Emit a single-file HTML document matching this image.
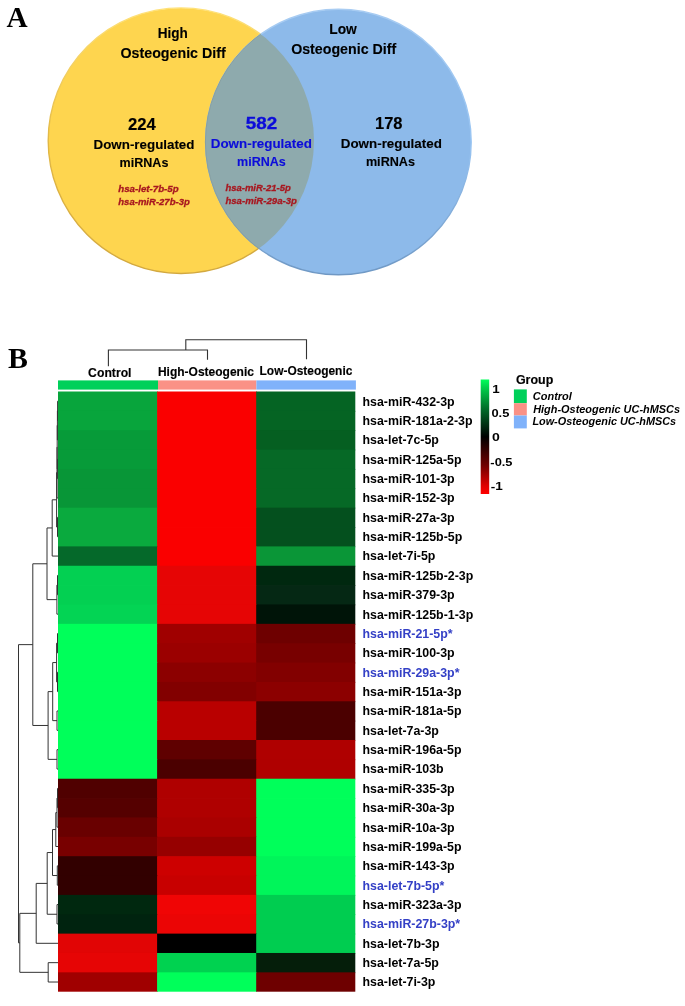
<!DOCTYPE html><html><head><meta charset="utf-8"><style>html,body{margin:0;padding:0;background:#fff;overflow:hidden}svg{display:block;will-change:transform}#w{width:685px;height:1006px;overflow:hidden}</style></head><body><div id="w">
<svg width="685" height="1006" viewBox="0 0 685 1006" font-family="'Liberation Sans', sans-serif">
<rect width="685" height="1006" fill="#fff"/>
<defs><linearGradient id="ys" x1="0" y1="0" x2="0" y2="1"><stop offset="0" stop-color="#FFE27A"/><stop offset="0.5" stop-color="#E2B845"/><stop offset="1" stop-color="#D2A840"/></linearGradient><linearGradient id="bs" x1="0" y1="0" x2="0" y2="1"><stop offset="0" stop-color="#A8CCF2"/><stop offset="0.5" stop-color="#98C4F2"/><stop offset="1" stop-color="#6F98C4"/></linearGradient><filter id="sf" x="-5%" y="-5%" width="110%" height="110%"><feGaussianBlur stdDeviation="0.45"/></filter></defs>
<g filter="url(#sf)">
<circle cx="181.0" cy="140.7" r="132.80" fill="#FED54F" stroke="url(#ys)" stroke-width="1.4"/>
<circle cx="338.4" cy="142.0" r="132.80" fill="#8DBAEA" stroke="url(#bs)" stroke-width="1.4"/>
<clipPath id="cy"><circle cx="181.0" cy="140.7" r="133.00"/></clipPath>
<circle cx="338.4" cy="142.0" r="133.00" fill="#8EAAAD" stroke="#889FA0" stroke-width="1" clip-path="url(#cy)"/>
</g>
<text x="6.41" y="26.70" font-family="'Liberation Serif'" font-size="29.80" font-weight="bold" font-style="normal" fill="#000" textLength="21.15" lengthAdjust="spacingAndGlyphs">A</text>
<text x="157.65" y="37.70" font-family="'Liberation Sans'" font-size="14.60" font-weight="bold" font-style="normal" fill="#000" stroke="#000" stroke-width="0.12" textLength="30.08" lengthAdjust="spacingAndGlyphs">High</text>
<text x="120.53" y="57.50" font-family="'Liberation Sans'" font-size="14.40" font-weight="bold" font-style="normal" fill="#000" stroke="#000" stroke-width="0.12" textLength="105.16" lengthAdjust="spacingAndGlyphs">Osteogenic Diff</text>
<text x="329.24" y="33.90" font-family="'Liberation Sans'" font-size="13.80" font-weight="bold" font-style="normal" fill="#000" stroke="#000" stroke-width="0.12" textLength="27.56" lengthAdjust="spacingAndGlyphs">Low</text>
<text x="291.13" y="53.50" font-family="'Liberation Sans'" font-size="14.40" font-weight="bold" font-style="normal" fill="#000" stroke="#000" stroke-width="0.12" textLength="105.06" lengthAdjust="spacingAndGlyphs">Osteogenic Diff</text>
<text x="128.00" y="129.60" font-family="'Liberation Sans'" font-size="15.60" font-weight="bold" font-style="normal" fill="#000" stroke="#000" stroke-width="0.12" textLength="27.95" lengthAdjust="spacingAndGlyphs">224</text>
<text x="245.84" y="128.90" font-family="'Liberation Sans'" font-size="15.60" font-weight="bold" font-style="normal" fill="#0C0CDA" stroke="#0C0CDA" stroke-width="0.30" textLength="31.39" lengthAdjust="spacingAndGlyphs">582</text>
<text x="375.01" y="128.90" font-family="'Liberation Sans'" font-size="15.60" font-weight="bold" font-style="normal" fill="#000" stroke="#000" stroke-width="0.12" textLength="27.56" lengthAdjust="spacingAndGlyphs">178</text>
<text x="93.57" y="148.50" font-family="'Liberation Sans'" font-size="12.80" font-weight="bold" font-style="normal" fill="#000" stroke="#000" stroke-width="0.12" textLength="100.91" lengthAdjust="spacingAndGlyphs">Down-regulated</text>
<text x="210.76" y="147.70" font-family="'Liberation Sans'" font-size="12.80" font-weight="bold" font-style="normal" fill="#0C0CDA" stroke="#0C0CDA" stroke-width="0.12" textLength="101.12" lengthAdjust="spacingAndGlyphs">Down-regulated</text>
<text x="340.76" y="148.00" font-family="'Liberation Sans'" font-size="12.80" font-weight="bold" font-style="normal" fill="#000" stroke="#000" stroke-width="0.12" textLength="101.12" lengthAdjust="spacingAndGlyphs">Down-regulated</text>
<text x="119.62" y="167.00" font-family="'Liberation Sans'" font-size="12.80" font-weight="bold" font-style="normal" fill="#000" stroke="#000" stroke-width="0.12" textLength="48.78" lengthAdjust="spacingAndGlyphs">miRNAs</text>
<text x="237.02" y="166.20" font-family="'Liberation Sans'" font-size="12.80" font-weight="bold" font-style="normal" fill="#0C0CDA" stroke="#0C0CDA" stroke-width="0.12" textLength="48.78" lengthAdjust="spacingAndGlyphs">miRNAs</text>
<text x="365.92" y="166.20" font-family="'Liberation Sans'" font-size="12.80" font-weight="bold" font-style="normal" fill="#000" stroke="#000" stroke-width="0.12" textLength="49.08" lengthAdjust="spacingAndGlyphs">miRNAs</text>
<text x="118.31" y="191.80" font-family="'Liberation Sans'" font-size="9.60" font-weight="bold" font-style="italic" fill="#A81820" stroke="#A81820" stroke-width="0.30" textLength="60.32" lengthAdjust="spacingAndGlyphs">hsa-let-7b-5p</text>
<text x="118.31" y="204.60" font-family="'Liberation Sans'" font-size="9.60" font-weight="bold" font-style="italic" fill="#A81820" stroke="#A81820" stroke-width="0.30" textLength="71.49" lengthAdjust="spacingAndGlyphs">hsa-miR-27b-3p</text>
<text x="225.41" y="191.40" font-family="'Liberation Sans'" font-size="9.60" font-weight="bold" font-style="italic" fill="#A81820" stroke="#A81820" stroke-width="0.30" textLength="65.38" lengthAdjust="spacingAndGlyphs">hsa-miR-21-5p</text>
<text x="225.41" y="204.20" font-family="'Liberation Sans'" font-size="9.60" font-weight="bold" font-style="italic" fill="#A81820" stroke="#A81820" stroke-width="0.30" textLength="71.55" lengthAdjust="spacingAndGlyphs">hsa-miR-29a-3p</text>
<text x="7.90" y="367.90" font-family="'Liberation Serif'" font-size="29.40" font-weight="bold" font-style="normal" fill="#000" textLength="19.90" lengthAdjust="spacingAndGlyphs">B</text>
<text x="88.11" y="376.90" font-family="'Liberation Sans'" font-size="12.60" font-weight="bold" font-style="normal" fill="#000" stroke="#000" stroke-width="0.15" textLength="43.40" lengthAdjust="spacingAndGlyphs">Control</text>
<text x="157.96" y="375.70" font-family="'Liberation Sans'" font-size="12.20" font-weight="bold" font-style="normal" fill="#000" stroke="#000" stroke-width="0.15" textLength="96.01" lengthAdjust="spacingAndGlyphs">High-Osteogenic</text>
<text x="259.57" y="374.60" font-family="'Liberation Sans'" font-size="12.40" font-weight="bold" font-style="normal" fill="#000" stroke="#000" stroke-width="0.15" textLength="92.77" lengthAdjust="spacingAndGlyphs">Low-Osteogenic</text>
<text x="515.90" y="383.70" font-family="'Liberation Sans'" font-size="12.20" font-weight="bold" font-style="normal" fill="#000" stroke="#000" stroke-width="0.15" textLength="37.39" lengthAdjust="spacingAndGlyphs">Group</text>
<text x="532.85" y="399.70" font-family="'Liberation Sans'" font-size="11.00" font-weight="bold" font-style="italic" fill="#000" textLength="38.98" lengthAdjust="spacingAndGlyphs">Control</text>
<text x="533.18" y="413.40" font-family="'Liberation Sans'" font-size="11.00" font-weight="bold" font-style="italic" fill="#000" textLength="146.90" lengthAdjust="spacingAndGlyphs">High-Osteogenic UC-hMSCs</text>
<text x="532.38" y="425.20" font-family="'Liberation Sans'" font-size="11.00" font-weight="bold" font-style="italic" fill="#000" textLength="143.77" lengthAdjust="spacingAndGlyphs">Low-Osteogenic UC-hMSCs</text>
<text x="492.20" y="392.80" font-family="'Liberation Sans'" font-size="11.40" font-weight="bold" font-style="normal" fill="#000" textLength="7.46" lengthAdjust="spacingAndGlyphs">1</text>
<text x="491.48" y="417.00" font-family="'Liberation Sans'" font-size="11.40" font-weight="bold" font-style="normal" fill="#000" textLength="17.90" lengthAdjust="spacingAndGlyphs">0.5</text>
<text x="492.04" y="440.80" font-family="'Liberation Sans'" font-size="11.40" font-weight="bold" font-style="normal" fill="#000" textLength="7.81" lengthAdjust="spacingAndGlyphs">0</text>
<text x="490.39" y="466.10" font-family="'Liberation Sans'" font-size="11.40" font-weight="bold" font-style="normal" fill="#000" textLength="22.11" lengthAdjust="spacingAndGlyphs">-0.5</text>
<text x="490.76" y="490.40" font-family="'Liberation Sans'" font-size="11.40" font-weight="bold" font-style="normal" fill="#000" textLength="12.04" lengthAdjust="spacingAndGlyphs">-1</text>
<path d="M108.4,366.2 V350 H207.5 V359.8 M185.8,350 V339.8 H306.5 V359.3" fill="none" stroke="#333" stroke-width="1.1"/>
<rect x="58.0" y="380.4" width="100.0" height="9.2" fill="#00D05A"/>
<rect x="158" y="380.4" width="98.4" height="9.2" fill="#FA9186"/>
<rect x="256.4" y="380.4" width="99.5" height="9.2" fill="#80B2FA"/>
<path d="M58.50,401.18 H57.60 V420.54 H58.50 M57.60,410.86 H57.40 V439.90 H58.50 M58.50,459.26 H57.60 V478.63 H58.50 M57.40,425.38 H57.20 V468.95 H57.60 M57.20,447.16 H57.00 V497.99 H58.50 M58.50,517.35 H57.50 V536.71 H58.50 M57.00,472.58 H56.60 V527.03 H57.50 M56.60,499.80 H52.20 V556.07 H58.50 M58.50,575.43 H57.50 V594.79 H58.50 M57.50,585.11 H56.90 V614.15 H58.50 M52.20,527.94 H47.00 V599.63 H56.90 M58.50,633.52 H57.50 V652.88 H58.50 M58.50,672.24 H57.50 V691.60 H58.50 M57.50,643.20 H56.60 V681.92 H57.50 M58.50,710.96 H57.00 V730.32 H58.50 M56.60,662.56 H52.70 V720.64 H57.00 M58.50,749.68 H57.00 V769.05 H58.50 M52.70,691.60 H48.10 V759.36 H57.00 M47.00,563.79 H32.80 V725.48 H48.10 M58.50,904.57 H57.00 V923.94 H58.50 M58.50,788.41 H57.50 V807.77 H58.50 M57.50,798.09 H57.00 V827.13 H58.50 M57.00,812.61 H55.80 V846.49 H58.50 M58.50,865.85 H57.30 V885.21 H58.50 M55.80,829.55 H52.50 V875.53 H57.30 M52.50,852.54 H47.20 V914.25 H57.00 M47.20,883.40 H36.20 V943.30 H58.50 M58.50,962.66 H48.20 V982.02 H58.50 M36.20,913.35 H19.80 V972.34 H48.20 M32.80,644.63 H18.50 V942.84 H19.80" fill="none" stroke="#333" stroke-width="1"/>
<rect x="58.00" y="391.50" width="99.90" height="20.16" fill="rgb(8,165,60)"/>
<rect x="157.10" y="391.50" width="99.90" height="20.16" fill="rgb(250,0,0)"/>
<rect x="256.20" y="391.50" width="99.10" height="20.16" fill="rgb(5,100,35)"/>
<rect x="58.00" y="410.86" width="99.90" height="20.16" fill="rgb(8,165,60)"/>
<rect x="157.10" y="410.86" width="99.90" height="20.16" fill="rgb(250,0,0)"/>
<rect x="256.20" y="410.86" width="99.10" height="20.16" fill="rgb(5,100,35)"/>
<rect x="58.00" y="430.22" width="99.90" height="20.16" fill="rgb(7,155,57)"/>
<rect x="157.10" y="430.22" width="99.90" height="20.16" fill="rgb(250,0,0)"/>
<rect x="256.20" y="430.22" width="99.10" height="20.16" fill="rgb(5,95,33)"/>
<rect x="58.00" y="449.58" width="99.90" height="20.16" fill="rgb(7,155,57)"/>
<rect x="157.10" y="449.58" width="99.90" height="20.16" fill="rgb(250,0,0)"/>
<rect x="256.20" y="449.58" width="99.10" height="20.16" fill="rgb(6,105,38)"/>
<rect x="58.00" y="468.95" width="99.90" height="20.16" fill="rgb(8,150,55)"/>
<rect x="157.10" y="468.95" width="99.90" height="20.16" fill="rgb(250,0,0)"/>
<rect x="256.20" y="468.95" width="99.10" height="20.16" fill="rgb(6,105,38)"/>
<rect x="58.00" y="488.31" width="99.90" height="20.16" fill="rgb(8,150,55)"/>
<rect x="157.10" y="488.31" width="99.90" height="20.16" fill="rgb(250,0,0)"/>
<rect x="256.20" y="488.31" width="99.10" height="20.16" fill="rgb(6,105,38)"/>
<rect x="58.00" y="507.67" width="99.90" height="20.16" fill="rgb(10,170,62)"/>
<rect x="157.10" y="507.67" width="99.90" height="20.16" fill="rgb(250,0,0)"/>
<rect x="256.20" y="507.67" width="99.10" height="20.16" fill="rgb(4,80,30)"/>
<rect x="58.00" y="527.03" width="99.90" height="20.16" fill="rgb(10,170,62)"/>
<rect x="157.10" y="527.03" width="99.90" height="20.16" fill="rgb(250,0,0)"/>
<rect x="256.20" y="527.03" width="99.10" height="20.16" fill="rgb(4,80,30)"/>
<rect x="58.00" y="546.39" width="99.90" height="20.16" fill="rgb(5,105,42)"/>
<rect x="157.10" y="546.39" width="99.90" height="20.16" fill="rgb(250,0,0)"/>
<rect x="256.20" y="546.39" width="99.10" height="20.16" fill="rgb(10,150,55)"/>
<rect x="58.00" y="565.75" width="99.90" height="20.16" fill="rgb(3,208,82)"/>
<rect x="157.10" y="565.75" width="99.90" height="20.16" fill="rgb(230,5,5)"/>
<rect x="256.20" y="565.75" width="99.10" height="20.16" fill="rgb(0,40,15)"/>
<rect x="58.00" y="585.11" width="99.90" height="20.16" fill="rgb(3,208,82)"/>
<rect x="157.10" y="585.11" width="99.90" height="20.16" fill="rgb(230,5,5)"/>
<rect x="256.20" y="585.11" width="99.10" height="20.16" fill="rgb(5,40,20)"/>
<rect x="58.00" y="604.47" width="99.90" height="20.16" fill="rgb(3,212,84)"/>
<rect x="157.10" y="604.47" width="99.90" height="20.16" fill="rgb(230,5,5)"/>
<rect x="256.20" y="604.47" width="99.10" height="20.16" fill="rgb(0,20,8)"/>
<rect x="58.00" y="623.84" width="99.90" height="20.16" fill="rgb(0,255,90)"/>
<rect x="157.10" y="623.84" width="99.90" height="20.16" fill="rgb(160,0,0)"/>
<rect x="256.20" y="623.84" width="99.10" height="20.16" fill="rgb(110,0,0)"/>
<rect x="58.00" y="643.20" width="99.90" height="20.16" fill="rgb(0,255,90)"/>
<rect x="157.10" y="643.20" width="99.90" height="20.16" fill="rgb(155,0,0)"/>
<rect x="256.20" y="643.20" width="99.10" height="20.16" fill="rgb(120,0,0)"/>
<rect x="58.00" y="662.56" width="99.90" height="20.16" fill="rgb(0,255,90)"/>
<rect x="157.10" y="662.56" width="99.90" height="20.16" fill="rgb(140,0,0)"/>
<rect x="256.20" y="662.56" width="99.10" height="20.16" fill="rgb(130,0,0)"/>
<rect x="58.00" y="681.92" width="99.90" height="20.16" fill="rgb(0,255,90)"/>
<rect x="157.10" y="681.92" width="99.90" height="20.16" fill="rgb(130,0,0)"/>
<rect x="256.20" y="681.92" width="99.10" height="20.16" fill="rgb(140,0,0)"/>
<rect x="58.00" y="701.28" width="99.90" height="20.16" fill="rgb(0,255,90)"/>
<rect x="157.10" y="701.28" width="99.90" height="20.16" fill="rgb(185,0,0)"/>
<rect x="256.20" y="701.28" width="99.10" height="20.16" fill="rgb(75,0,0)"/>
<rect x="58.00" y="720.64" width="99.90" height="20.16" fill="rgb(0,255,90)"/>
<rect x="157.10" y="720.64" width="99.90" height="20.16" fill="rgb(185,0,0)"/>
<rect x="256.20" y="720.64" width="99.10" height="20.16" fill="rgb(75,0,0)"/>
<rect x="58.00" y="740.00" width="99.90" height="20.16" fill="rgb(0,255,90)"/>
<rect x="157.10" y="740.00" width="99.90" height="20.16" fill="rgb(95,0,0)"/>
<rect x="256.20" y="740.00" width="99.10" height="20.16" fill="rgb(175,0,0)"/>
<rect x="58.00" y="759.36" width="99.90" height="20.16" fill="rgb(0,255,90)"/>
<rect x="157.10" y="759.36" width="99.90" height="20.16" fill="rgb(75,0,0)"/>
<rect x="256.20" y="759.36" width="99.10" height="20.16" fill="rgb(175,0,0)"/>
<rect x="58.00" y="778.73" width="99.90" height="20.16" fill="rgb(80,0,0)"/>
<rect x="157.10" y="778.73" width="99.90" height="20.16" fill="rgb(175,0,0)"/>
<rect x="256.20" y="778.73" width="99.10" height="20.16" fill="rgb(0,255,90)"/>
<rect x="58.00" y="798.09" width="99.90" height="20.16" fill="rgb(85,0,0)"/>
<rect x="157.10" y="798.09" width="99.90" height="20.16" fill="rgb(175,0,0)"/>
<rect x="256.20" y="798.09" width="99.10" height="20.16" fill="rgb(0,255,90)"/>
<rect x="58.00" y="817.45" width="99.90" height="20.16" fill="rgb(105,0,0)"/>
<rect x="157.10" y="817.45" width="99.90" height="20.16" fill="rgb(170,0,0)"/>
<rect x="256.20" y="817.45" width="99.10" height="20.16" fill="rgb(0,255,90)"/>
<rect x="58.00" y="836.81" width="99.90" height="20.16" fill="rgb(120,0,0)"/>
<rect x="157.10" y="836.81" width="99.90" height="20.16" fill="rgb(150,0,0)"/>
<rect x="256.20" y="836.81" width="99.10" height="20.16" fill="rgb(0,255,90)"/>
<rect x="58.00" y="856.17" width="99.90" height="20.16" fill="rgb(50,0,0)"/>
<rect x="157.10" y="856.17" width="99.90" height="20.16" fill="rgb(205,0,0)"/>
<rect x="256.20" y="856.17" width="99.10" height="20.16" fill="rgb(0,245,90)"/>
<rect x="58.00" y="875.53" width="99.90" height="20.16" fill="rgb(50,0,0)"/>
<rect x="157.10" y="875.53" width="99.90" height="20.16" fill="rgb(200,0,0)"/>
<rect x="256.20" y="875.53" width="99.10" height="20.16" fill="rgb(0,245,90)"/>
<rect x="58.00" y="894.89" width="99.90" height="20.16" fill="rgb(0,40,15)"/>
<rect x="157.10" y="894.89" width="99.90" height="20.16" fill="rgb(240,5,5)"/>
<rect x="256.20" y="894.89" width="99.10" height="20.16" fill="rgb(0,205,80)"/>
<rect x="58.00" y="914.25" width="99.90" height="20.16" fill="rgb(0,35,15)"/>
<rect x="157.10" y="914.25" width="99.90" height="20.16" fill="rgb(235,5,5)"/>
<rect x="256.20" y="914.25" width="99.10" height="20.16" fill="rgb(0,205,80)"/>
<rect x="58.00" y="933.62" width="99.90" height="20.16" fill="rgb(225,5,5)"/>
<rect x="157.10" y="933.62" width="99.90" height="20.16" fill="rgb(0,0,0)"/>
<rect x="256.20" y="933.62" width="99.10" height="20.16" fill="rgb(0,205,80)"/>
<rect x="58.00" y="952.98" width="99.90" height="20.16" fill="rgb(230,5,5)"/>
<rect x="157.10" y="952.98" width="99.90" height="20.16" fill="rgb(0,210,80)"/>
<rect x="256.20" y="952.98" width="99.10" height="20.16" fill="rgb(5,30,10)"/>
<rect x="58.00" y="972.34" width="99.90" height="19.36" fill="rgb(160,0,0)"/>
<rect x="157.10" y="972.34" width="99.90" height="19.36" fill="rgb(0,255,90)"/>
<rect x="256.20" y="972.34" width="99.10" height="19.36" fill="rgb(110,0,0)"/>
<text x="362.53" y="405.58" font-size="12.50" font-weight="bold" fill="#000" textLength="92.16" lengthAdjust="spacingAndGlyphs">hsa-miR-432-3p</text>
<text x="362.53" y="424.94" font-size="12.50" font-weight="bold" fill="#000" textLength="110.04" lengthAdjust="spacingAndGlyphs">hsa-miR-181a-2-3p</text>
<text x="362.53" y="444.30" font-size="12.50" font-weight="bold" fill="#000" textLength="76.34" lengthAdjust="spacingAndGlyphs">hsa-let-7c-5p</text>
<text x="362.53" y="463.66" font-size="12.50" font-weight="bold" fill="#000" textLength="99.04" lengthAdjust="spacingAndGlyphs">hsa-miR-125a-5p</text>
<text x="362.53" y="483.03" font-size="12.50" font-weight="bold" fill="#000" textLength="92.16" lengthAdjust="spacingAndGlyphs">hsa-miR-101-3p</text>
<text x="362.53" y="502.39" font-size="12.50" font-weight="bold" fill="#000" textLength="92.16" lengthAdjust="spacingAndGlyphs">hsa-miR-152-3p</text>
<text x="362.53" y="521.75" font-size="12.50" font-weight="bold" fill="#000" textLength="92.16" lengthAdjust="spacingAndGlyphs">hsa-miR-27a-3p</text>
<text x="362.53" y="541.11" font-size="12.50" font-weight="bold" fill="#000" textLength="99.71" lengthAdjust="spacingAndGlyphs">hsa-miR-125b-5p</text>
<text x="362.53" y="560.47" font-size="12.50" font-weight="bold" fill="#000" textLength="72.89" lengthAdjust="spacingAndGlyphs">hsa-let-7i-5p</text>
<text x="362.53" y="579.83" font-size="12.50" font-weight="bold" fill="#000" textLength="110.72" lengthAdjust="spacingAndGlyphs">hsa-miR-125b-2-3p</text>
<text x="362.53" y="599.19" font-size="12.50" font-weight="bold" fill="#000" textLength="92.16" lengthAdjust="spacingAndGlyphs">hsa-miR-379-3p</text>
<text x="362.53" y="618.55" font-size="12.50" font-weight="bold" fill="#000" textLength="110.72" lengthAdjust="spacingAndGlyphs">hsa-miR-125b-1-3p</text>
<text x="362.53" y="637.92" font-size="12.50" font-weight="bold" fill="#3440C6" textLength="90.09" lengthAdjust="spacingAndGlyphs">hsa-miR-21-5p*</text>
<text x="362.53" y="657.28" font-size="12.50" font-weight="bold" fill="#000" textLength="92.16" lengthAdjust="spacingAndGlyphs">hsa-miR-100-3p</text>
<text x="362.53" y="676.64" font-size="12.50" font-weight="bold" fill="#3440C6" textLength="96.97" lengthAdjust="spacingAndGlyphs">hsa-miR-29a-3p*</text>
<text x="362.53" y="696.00" font-size="12.50" font-weight="bold" fill="#000" textLength="99.04" lengthAdjust="spacingAndGlyphs">hsa-miR-151a-3p</text>
<text x="362.53" y="715.36" font-size="12.50" font-weight="bold" fill="#000" textLength="99.04" lengthAdjust="spacingAndGlyphs">hsa-miR-181a-5p</text>
<text x="362.53" y="734.72" font-size="12.50" font-weight="bold" fill="#000" textLength="76.34" lengthAdjust="spacingAndGlyphs">hsa-let-7a-3p</text>
<text x="362.53" y="754.08" font-size="12.50" font-weight="bold" fill="#000" textLength="99.04" lengthAdjust="spacingAndGlyphs">hsa-miR-196a-5p</text>
<text x="362.53" y="773.45" font-size="12.50" font-weight="bold" fill="#000" textLength="81.15" lengthAdjust="spacingAndGlyphs">hsa-miR-103b</text>
<text x="362.53" y="792.81" font-size="12.50" font-weight="bold" fill="#000" textLength="92.16" lengthAdjust="spacingAndGlyphs">hsa-miR-335-3p</text>
<text x="362.53" y="812.17" font-size="12.50" font-weight="bold" fill="#000" textLength="92.16" lengthAdjust="spacingAndGlyphs">hsa-miR-30a-3p</text>
<text x="362.53" y="831.53" font-size="12.50" font-weight="bold" fill="#000" textLength="92.16" lengthAdjust="spacingAndGlyphs">hsa-miR-10a-3p</text>
<text x="362.53" y="850.89" font-size="12.50" font-weight="bold" fill="#000" textLength="99.04" lengthAdjust="spacingAndGlyphs">hsa-miR-199a-5p</text>
<text x="362.53" y="870.25" font-size="12.50" font-weight="bold" fill="#000" textLength="92.16" lengthAdjust="spacingAndGlyphs">hsa-miR-143-3p</text>
<text x="362.53" y="889.61" font-size="12.50" font-weight="bold" fill="#3440C6" textLength="81.83" lengthAdjust="spacingAndGlyphs">hsa-let-7b-5p*</text>
<text x="362.53" y="908.97" font-size="12.50" font-weight="bold" fill="#000" textLength="99.04" lengthAdjust="spacingAndGlyphs">hsa-miR-323a-3p</text>
<text x="362.53" y="928.34" font-size="12.50" font-weight="bold" fill="#3440C6" textLength="97.65" lengthAdjust="spacingAndGlyphs">hsa-miR-27b-3p*</text>
<text x="362.53" y="947.70" font-size="12.50" font-weight="bold" fill="#000" textLength="77.01" lengthAdjust="spacingAndGlyphs">hsa-let-7b-3p</text>
<text x="362.53" y="967.06" font-size="12.50" font-weight="bold" fill="#000" textLength="76.34" lengthAdjust="spacingAndGlyphs">hsa-let-7a-5p</text>
<text x="362.53" y="986.42" font-size="12.50" font-weight="bold" fill="#000" textLength="72.89" lengthAdjust="spacingAndGlyphs">hsa-let-7i-3p</text>
<defs><linearGradient id="cg" x1="0" y1="0" x2="0" y2="1"><stop offset="0" stop-color="#00FF5A"/><stop offset="0.07" stop-color="#00D04A"/><stop offset="0.25" stop-color="#00702A"/><stop offset="0.5" stop-color="#000"/><stop offset="0.75" stop-color="#700000"/><stop offset="0.93" stop-color="#E00000"/><stop offset="1" stop-color="#FF0000"/></linearGradient></defs>
<rect x="480.7" y="379.5" width="8.5" height="114.5" fill="url(#cg)"/>
<rect x="513.9" y="389.4" width="12.9" height="13.8" fill="#00D05A"/>
<rect x="513.9" y="403.2" width="12.9" height="12.3" fill="#FA9186"/>
<rect x="513.9" y="415.5" width="12.9" height="12.9" fill="#80B2FA"/>
</svg></div></body></html>
